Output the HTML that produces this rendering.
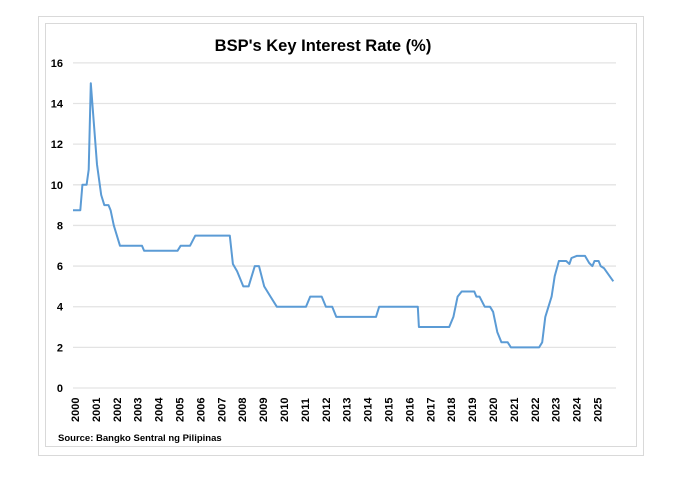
<!DOCTYPE html>
<html><head><meta charset="utf-8"><style>
html,body{margin:0;padding:0;background:#fff;width:679px;height:488px;overflow:hidden}
</style></head><body>
<svg width="679" height="488" xmlns="http://www.w3.org/2000/svg" font-family="Liberation Sans, sans-serif">
<rect x="38.5" y="16.5" width="605" height="439" fill="#fff" stroke="#d9d9d9"/>
<rect x="45.5" y="23.5" width="591" height="423" fill="#fff" stroke="#d9d9d9"/>
<text x="323" y="51" text-anchor="middle" font-size="16.5" font-weight="bold" fill="#000">BSP's Key Interest Rate (%)</text>
<g id="grid" stroke="#e3e3e3" stroke-width="1.3"></g>
<g id="ylab" font-size="11" font-weight="bold" fill="#000" text-anchor="end"></g>
<g id="xlab" font-size="11" font-weight="bold" fill="#000"></g>
<polyline id="line" fill="none" stroke="#5b9bd5" stroke-width="2" stroke-linejoin="round"/>
<text x="58" y="441" font-size="9.5" font-weight="bold" fill="#000">Source:  Bangko Sentral ng Pilipinas</text>
</svg>
<script>
var NS="http://www.w3.org/2000/svg";
function Y(v){return 388-v*20.32;}
function X(t){return 73+(t-2000)*20.9;}
var g=document.getElementById('grid'),yl=document.getElementById('ylab'),xl=document.getElementById('xlab');
for(var v=0;v<=16;v+=2){var l=document.createElementNS(NS,'line');l.setAttribute('x1',73);l.setAttribute('x2',616);l.setAttribute('y1',Y(v));l.setAttribute('y2',Y(v));g.appendChild(l);
var t=document.createElementNS(NS,'text');t.setAttribute('x',63);t.setAttribute('y',Y(v)+4);t.textContent=v;yl.appendChild(t);}
for(var y=2000;y<=2025;y++){var t=document.createElementNS(NS,'text');var x=X(y)+6;t.setAttribute('transform','translate('+x+',422) rotate(-90)');t.textContent=y;xl.appendChild(t);}
var d=[[2000,8.75],[2000.35,8.75],[2000.45,10],[2000.65,10],[2000.75,10.75],[2000.85,15],[2001.0,13],[2001.15,11],[2001.35,9.5],[2001.5,9],[2001.7,9],[2001.8,8.75],[2001.95,8],[2002.25,7],[2003.3,7],[2003.4,6.75],[2005.0,6.75],[2005.15,7],[2005.6,7],[2005.85,7.5],[2007.5,7.5],[2007.65,6.1],[2007.85,5.75],[2008.15,5],[2008.4,5],[2008.7,6],[2008.9,6],[2009.15,5],[2009.45,4.5],[2009.75,4],[2011.15,4],[2011.35,4.5],[2011.9,4.5],[2012.1,4],[2012.4,4],[2012.6,3.5],[2014.5,3.5],[2014.65,4],[2016.5,4],[2016.55,3],[2018.0,3],[2018.2,3.5],[2018.4,4.5],[2018.6,4.75],[2019.2,4.75],[2019.3,4.5],[2019.45,4.5],[2019.7,4],[2019.95,4],[2020.1,3.75],[2020.3,2.75],[2020.5,2.25],[2020.8,2.25],[2020.95,2],[2022.3,2],[2022.45,2.25],[2022.6,3.5],[2022.9,4.5],[2023.05,5.5],[2023.25,6.25],[2023.6,6.25],[2023.75,6.1],[2023.85,6.4],[2024.1,6.5],[2024.5,6.5],[2024.7,6.15],[2024.85,6.0],[2024.95,6.25],[2025.15,6.25],[2025.25,6.0],[2025.4,5.9],[2025.85,5.25]];
document.getElementById('line').setAttribute('points',d.map(function(p){return X(p[0]).toFixed(1)+','+Y(p[1]).toFixed(1)}).join(' '));
</script>
</body></html>
